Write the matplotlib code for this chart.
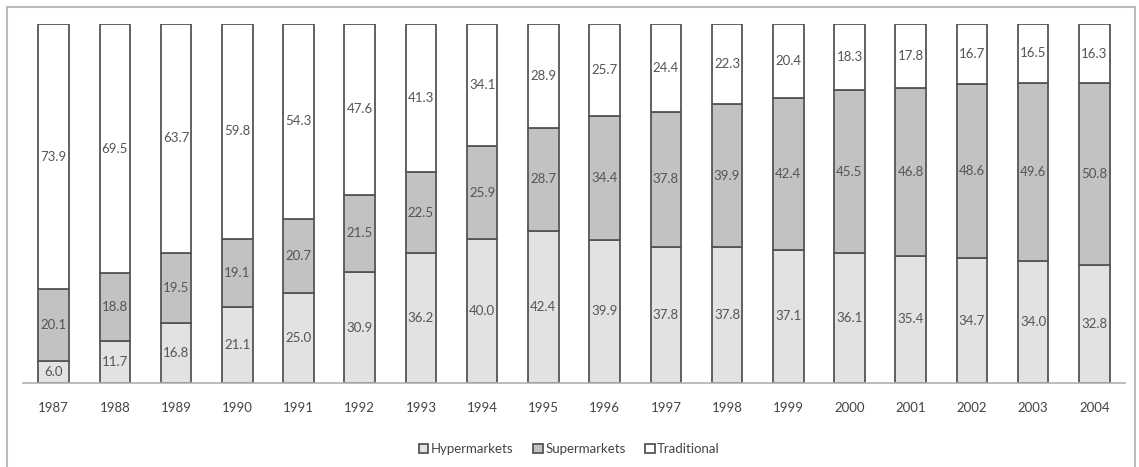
import matplotlib
matplotlib.use("Agg")
from matplotlib import pyplot
from matplotlib.patches import Rectangle
import numpy

years = [str(y) for y in range(1987, 2005)]
hyper = [6.0, 11.7, 16.8, 21.1, 25.0, 30.9, 36.2, 40.0, 42.4, 39.9,
         37.8, 37.8, 37.1, 36.1, 35.4, 34.7, 34.0, 32.8]
super_ = [20.1, 18.8, 19.5, 19.1, 20.7, 21.5, 22.5, 25.9, 28.7, 34.4,
          37.8, 39.9, 42.4, 45.5, 46.8, 48.6, 49.6, 50.8]
trad = [73.9, 69.5, 63.7, 59.8, 54.3, 47.6, 41.3, 34.1, 28.9, 25.7,
        24.4, 22.3, 20.4, 18.3, 17.8, 16.7, 16.5, 16.3]

series = [("Hypermarkets", hyper, "#e2e2e2"),
          ("Supermarkets", super_, "#c2c2c2"),
          ("Traditional", trad, "#ffffff")]

pyplot.rcParams['font.family'] = ['Lato', 'DejaVu Sans']

fig = pyplot.figure(figsize=(11.39, 4.67), dpi=100)
ax = fig.add_axes([0.0202, 0.1799, 0.9675, 0.7687])

x = numpy.arange(len(years))
bottom = numpy.zeros(len(years))
for name, vals, color in series:
    vals = numpy.array(vals)
    ax.bar(x, vals, width=0.5, bottom=bottom, color=color,
           edgecolor="#555555", linewidth=1.3, label=name)
    for xi, b, v in zip(x, bottom, vals):
        ax.text(xi, b + v / 2, "{:.1f}".format(v), ha="center",
                va="center", fontsize=9.5, color="#555555")
    bottom += vals

ax.set_xlim(-0.5, len(years) - 0.5)
ax.set_ylim(0, 100)
ax.set_yticks([])
ax.set_xticks(x)
ax.set_xticklabels(years, fontsize=9.5, color="#444444")
ax.tick_params(axis="x", length=0, pad=14)
for s in ("top", "right", "left"):
    ax.spines[s].set_visible(False)
ax.spines["bottom"].set_color("#b0b0b0")
ax.spines["bottom"].set_linewidth(1.2)

leg = fig.legend(loc="center", bbox_to_anchor=(0.5, 1 - 449 / 467),
                 ncol=3, frameon=False, fontsize=9.5, handlelength=0.7,
                 handleheight=0.7, handletextpad=0.2, columnspacing=1.5)
for t in leg.get_texts():
    t.set_color("#444444")

# outer chart border
fig.patches.append(Rectangle((7 / 1139, -0.02), 1128 / 1139, 1 - 7 / 467 + 0.02,
                             transform=fig.transFigure, fill=False,
                             edgecolor="#bbbbbb", linewidth=1.5))

fig.savefig("out.png", dpi=100)
